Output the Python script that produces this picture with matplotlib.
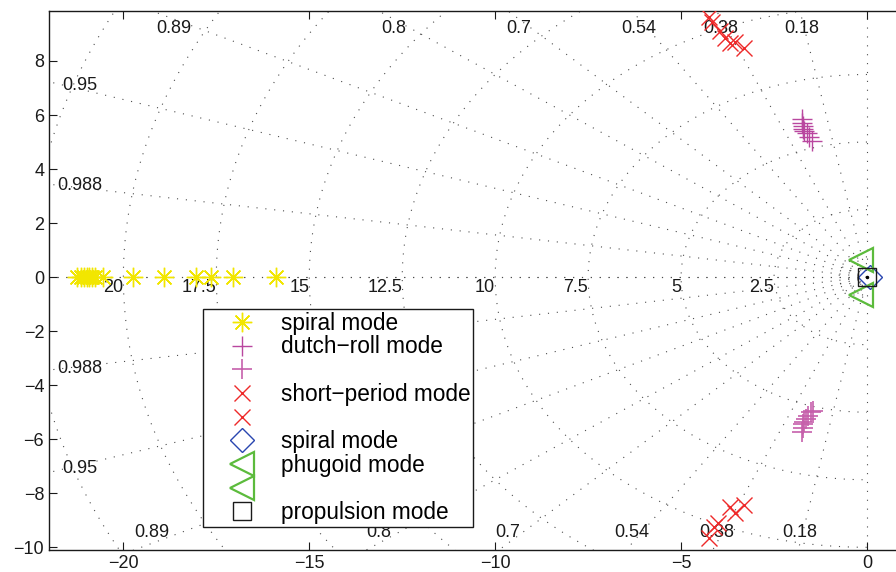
import numpy as np
import matplotlib.pyplot as plt

plt.rcParams['font.family'] = ['Liberation Sans', 'DejaVu Sans']

# pole locations
spiral_re = [-21.25, -21.15, -21.05, -20.98, -20.92, -20.85, -20.75, -20.55,
             -19.75, -18.9, -18.05, -17.65, -17.05, -15.9]
spiral_im = [0, 0, 0, 0, 0, 0, 0, 0, 0, 0, 0, 0, 0, 0]

dutch_up_re = [-1.75, -1.74, -1.73, -1.72, -1.70, -1.62, -1.55, -1.48]
dutch_up_im = [5.85, 5.7, 5.6, 5.5, 5.4, 5.35, 5.2, 5.05]
dutch_dn_re = [-1.75, -1.73, -1.72, -1.70, -1.65, -1.58, -1.50, -1.45]
dutch_dn_im = [-5.75, -5.6, -5.45, -5.35, -5.25, -5.15, -5.0, -4.95]

short_up_re = [-4.25, -4.17, -3.95, -3.82, -3.68, -3.55, -3.31]
short_up_im = [9.62, 9.44, 9.1, 8.85, 8.66, 8.70, 8.47]
short_dn_re = [-4.25, -4.12, -4.02, -3.68, -3.55, -3.3]
short_dn_im = [-9.66, -9.25, -9.1, -8.51, -8.73, -8.44]

spiral2_re = [0.08]
spiral2_im = [0.0]
phug_up_re = [-0.16]
phug_up_im = [0.62]
phug_dn_re = [-0.16]
phug_dn_im = [-0.68]
prop_re = [0.0]
prop_im = [0.0]

# grid values
zetas = [0.18, 0.38, 0.54, 0.7, 0.8, 0.89, 0.95, 0.988]
wns = [2.5, 5, 7.5, 10, 12.5, 15, 17.5, 20, 22.5, 25]
wn_labels = ['2.5', '5', '7.5', '10', '12.5', '15', '17.5', '20']

xlim = (-22, 0.78)
ylim = (-10.1, 9.85)

fig = plt.figure(figsize=(8.96, 5.72), dpi=100)
ax = fig.add_axes([49/896, 22/572, 847/896, 539/572])

dot = dict(color='0.3', lw=0.8, ls=(0, (1, 7)), zorder=1)

# damping lines (incl. zeta=0 and zeta=1)
for z in [0.0, 1.0] + zetas:
    th = np.arccos(z)
    r = 40
    ax.plot([0, -r*np.cos(th)], [0, r*np.sin(th)], **dot)
    ax.plot([0, -r*np.cos(th)], [0, -r*np.sin(th)], **dot)

# natural frequency circles
t = np.linspace(np.pi/2, 3*np.pi/2, 400)
for w in [0.25, 0.5, 0.75] + wns:
    ax.plot(w*np.cos(t), w*np.sin(t), **dot)

# zeta labels
fs = 13
for z in zetas:
    k = z/np.sqrt(1 - z**2)
    if 0.97*ylim[1]*k < 21.6:
        ax.text(-0.97*ylim[1]*k, 0.936*ylim[1], str(z), ha='center', va='center', fontsize=fs, color='0.1')
        ax.text(0.975*ylim[0]*k, 0.9376*ylim[0], str(z), ha='center', va='center', fontsize=fs, color='0.1')
    else:
        yy = 21.6/k
        ax.text(-21.16, yy, str(z), ha='center', va='center', fontsize=fs, color='0.1')
        ax.text(-21.16, -yy, str(z), ha='center', va='center', fontsize=fs, color='0.1')

# wn labels
for w, lab in zip(wns, wn_labels):
    ax.text(-w, -0.06, lab, ha='right', va='top', fontsize=fs, color='0.1')

ast = (8, 2, 0)
h1, = ax.plot(spiral_re, spiral_im, ls='none', marker=ast, ms=14, mec='#f2e600', mew=1.0, zorder=3)
h2, = ax.plot(dutch_up_re, dutch_up_im, ls='none', marker='+', ms=15, mec='#b9479f', mew=1.0, zorder=3)
h3, = ax.plot(dutch_dn_re, dutch_dn_im, ls='none', marker='+', ms=15, mec='#c660ab', mew=1.2, zorder=3)
h4, = ax.plot(short_up_re, short_up_im, ls='none', marker='x', ms=12, mec='#ee2a2a', mew=1.0, zorder=3)
h5, = ax.plot(short_dn_re, short_dn_im, ls='none', marker='x', ms=12, mec='#ee2a2a', mew=1.0, zorder=3)
h6, = ax.plot(spiral2_re, spiral2_im, ls='none', marker='D', ms=12.5, mfc='none', mec='#2946b0', mew=1.0, zorder=4)
h7, = ax.plot(phug_up_re, phug_up_im, ls='none', marker='<', ms=17, mfc='none', mec='#5cbb3c', mew=1.6, zorder=4)
h8, = ax.plot(phug_dn_re, phug_dn_im, ls='none', marker='<', ms=17, mfc='none', mec='#5cbb3c', mew=1.6, zorder=4)
h9, = ax.plot(prop_re, prop_im, ls='none', marker='s', ms=13, mfc='none', mec='0.1', mew=1.0, zorder=5)
ax.plot([0], [0], ls='none', marker='.', ms=3, color='k', zorder=6)

leg = ax.legend([h1, h2, h3, h4, h5, h6, h7, h8, h9],
                ['spiral mode', 'dutch\u2212roll mode', '', 'short\u2212period mode', '',
                 'spiral mode', 'phugoid mode', '', 'propulsion mode'],
                loc='upper left', bbox_to_anchor=(0.1818, 0.447), borderaxespad=0,
                fontsize=16.3, fancybox=False, framealpha=1, edgecolor='0.1',
                labelspacing=0.03, handlelength=3.23, handletextpad=0.1, borderpad=0.12)
leg.get_frame().set_linewidth(1.0)

ax.set_xlim(xlim)
ax.set_ylim(ylim)
ax.set_xticks([-20, -15, -10, -5, 0])
ax.set_yticks([-10, -8, -6, -4, -2, 0, 2, 4, 6, 8])
ax.set_xticklabels(['\u221220', '\u221215', '\u221210', '\u22125', '0'])
ax.set_yticklabels(['\u221210', '\u22128', '\u22126', '\u22124', '\u22122', '0', '2', '4', '6', '8'])
ax.tick_params(direction='in', top=True, right=False, labelsize=13, length=6, width=0.8, colors='0.1')
ax.spines['right'].set_visible(False)
for s in ax.spines.values():
    s.set_linewidth(1.0)
    s.set_color('0.1')

fig.savefig('out.png', dpi=100)
